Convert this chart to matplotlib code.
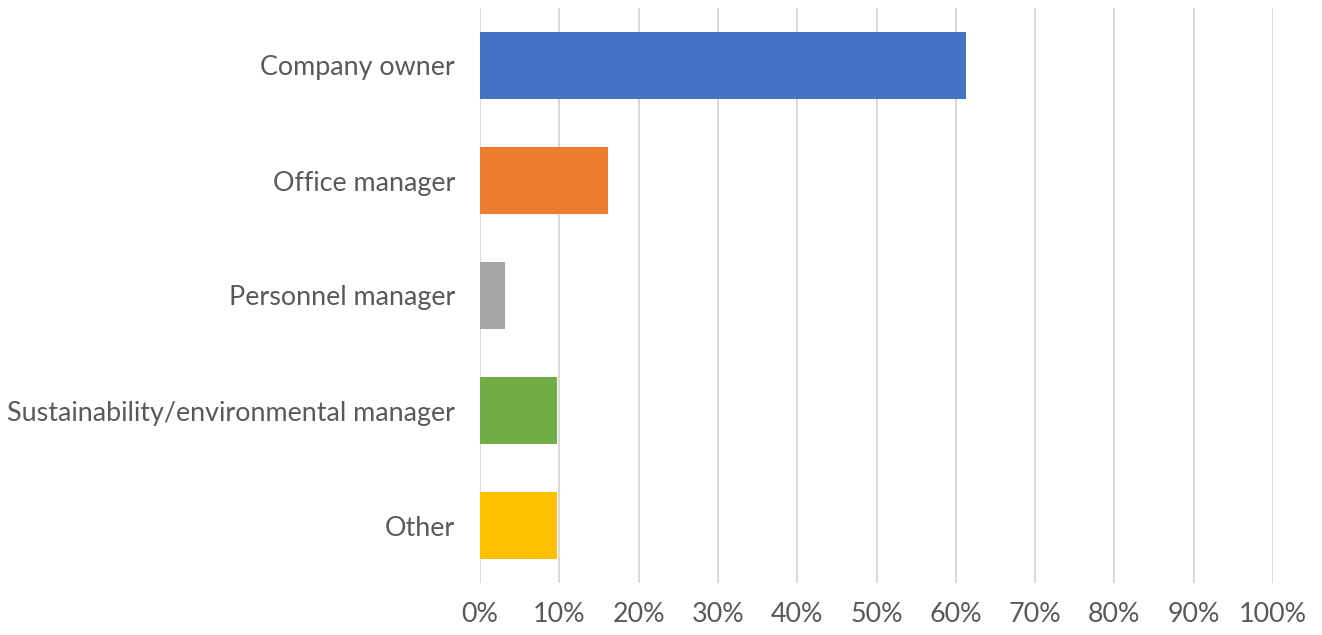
import matplotlib
matplotlib.use("Agg")
import matplotlib.pyplot as plt
from matplotlib.ticker import FuncFormatter

categories = ["Company owner", "Office manager", "Personnel manager",
              "Sustainability/environmental manager", "Other"]
shares = [61.3, 16.1, 3.2, 9.7, 9.7]
colors = ["#4472C4", "#ED7D31", "#A5A5A5", "#70AD47", "#FFC000"]
x_ticks = list(range(0, 101, 10))

plt.rcParams["font.family"] = ["Lato", "DejaVu Sans"]

fig = plt.figure(figsize=(13.22, 6.35), dpi=100)
ax = fig.add_axes([480 / 1322, 1 - 583 / 635, (1273 - 480) / 1322, (583 - 8) / 635])

ypos = list(range(len(categories)))
ax.barh(ypos, shares, height=0.574, color=colors, zorder=3)

ax.set_xlim(0, 100)
ax.set_ylim(len(categories) - 0.5, -0.5)
ax.set_xticks(x_ticks)
ax.xaxis.set_major_formatter(FuncFormatter(lambda v, p: f"{v:.0f}%"))
ax.set_yticks(ypos)
ax.set_yticklabels(categories)

ax.grid(axis="x", color="#D9D9D9", linewidth=1.4, zorder=0)
for s in ax.spines.values():
    s.set_visible(False)
ax.tick_params(axis="both", length=0, labelsize=19.4, labelcolor="#595959")
ax.tick_params(axis="x", pad=14)
ax.tick_params(axis="y", pad=18)

fig.savefig("out.png", dpi=100, facecolor="white")
